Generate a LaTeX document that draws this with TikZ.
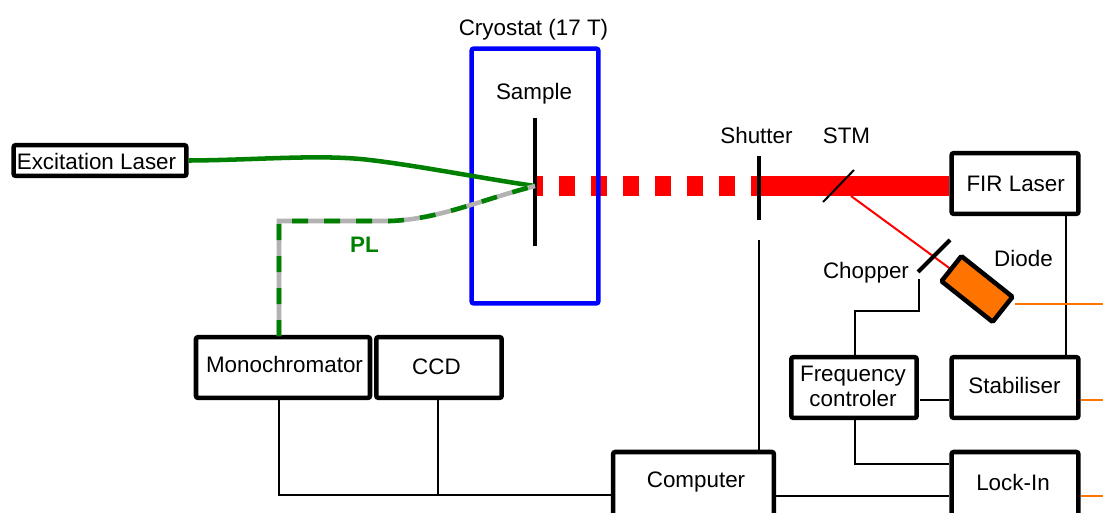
\documentclass[tikz,border=0pt]{standalone}
\usepackage{fontspec}
\setmainfont{Liberation Sans}
\begin{document}
\begin{tikzpicture}[x=.75pt, y=-.75pt,
        lab/.style={font=\fontsize{16.8}{20}\selectfont, inner sep=0pt, align=center},
        box/.style={lab, draw, line width=3.4pt, rounded corners=1.5pt, minimum height=45.5pt},
        wire/.style={line width=1.5pt},
        blade/.style={line width=3pt},
        orangewire/.style={line width=1.5pt, color=orange!90!red},
        beam/.style={line width=15pt, red},
        fibre/.style={line width=3.4pt, color=black!30},
        pump/.style={line width=3.4pt, color=green!50!black}]

      \path[use as bounding box, clip] (0,0) rectangle (1103,512);

      % beam
      \coordinate (sample) at (535,186);
      \coordinate (shutter) at (759,186);
      \node[box, minimum width=95pt] (fir) at (1015,183.5) {\hspace{1pt}FIR Laser};
      \draw[beam, dash pattern=on 12pt off 12pt, dash phase=6pt] (sample) -- (shutter);
      \draw[beam] (shutter) -- (shutter -| fir.west);
      \coordinate (stmout) at (851,196);
      \coordinate (diodein) at (952,270);
      \draw[line width=1.5pt, red] (stmout) -- (diodein);

      % cryostat
      \node[box, draw=blue, minimum width=95pt, minimum height=191pt] (cryo) at (535,176) {};
      \node[lab] (cryolab) at (533.5,29.5) {Cryostat (17 T)};
      \node[lab] (samplelab) at (534,94) {Sample};
      \coordinate (sampletop) at (535,118);
      \coordinate (samplebot) at (535,246);
      \draw[blade] (sampletop) -- (samplebot);

      % excitation and PL
      \node[box, minimum width=129.5pt, minimum height=23pt] (exc) at (100,160.5) {};
      \node[lab] (exclab) at (96.5,161) {Excitation Laser};
      \node[box, minimum width=130.5pt] (mono) at (283,367.5) {};
      \node[lab] (monolab) at (284.5,364) {Monochromator};
      \node[box, minimum width=94pt] (ccd) at (439,367.5) {};
      \node[lab] (ccdlab) at (436.5,367) {CCD};
      \coordinate (plin) at (279,336);
      \coordinate (plcorner) at (279,221);
      \draw[pump] (exc.east) .. controls (260,160) and (320,154) .. (370,160)
        .. controls (420,166) and (480,178) .. (sample);
      \draw[fibre] (plin) -- (plcorner) -- (390,221) .. controls (440,219) and (480,200) .. (sample);
      \draw[pump, dash pattern=on 12pt off 12pt] (plin) -- (plcorner) -- (390,221)
        .. controls (440,219) and (480,200) .. (sample);
      \node[lab, font=\fontsize{16.8}{20}\selectfont\bfseries, green!50!black] (pl) at (364.5,245) {PL};

      % shutter, STM, chopper
      \node[lab] (shutterlab) at (756.5,135) {Shutter};
      \node[lab] (stmlab) at (846.5,136) {STM};
      \coordinate (shuttertop) at (759,156);
      \coordinate (shutterbot) at (759,220);
      \draw[blade] (shuttertop) -- (shutterbot);
      \coordinate (stma) at (823,202);
      \coordinate (stmb) at (854,170);
      \draw[wire] (stma) -- (stmb);
      \node[lab] (chopperlab) at (866,273) {Chopper};
      \coordinate (chopa) at (918,272);
      \coordinate (chopb) at (950,240);
      \draw[blade] (chopa) -- (chopb);

      % diode
      \node[draw, line width=3.4pt, rounded corners=1pt, fill=orange!90!red, rotate=-38.5,
        minimum width=49pt, minimum height=24pt, inner sep=0pt] (diode) at (977,289) {};
      \node[lab] (diodelab) at (1023.5,258) {Diode};

      % electronics
      \node[box, minimum width=94pt] (freq) at (854,387.5) {};
      \node[lab] (freqlab) at (853,386) {Frequency\\[-1.25pt]controler};
      \node[box, minimum width=95pt] (stab) at (1015,387.5) {};
      \node[lab] (stablab) at (1014.5,385.5) {Stabiliser};
      \node[box, minimum width=95pt, minimum height=48pt] (lock) at (1015,484) {};
      \node[lab] (locklab) at (1013,482) {Lock-In};
      \node[box, minimum width=120.5pt, minimum height=48pt] (comp) at (693.5,484) {};
      \node[lab] (complab) at (696,482) {Computer};

      % wires
      \coordinate (firout) at (1066,216);
      \draw[wire] (firout) -- (firout |- stab.north);
      \coordinate (chopwire) at (919,279);
      \coordinate (chopbend) at (919,311);
      \draw[wire] (chopwire) -- (chopbend) -- (855,311) -- (855,356);
      \coordinate (freqstab) at (920,400);
      \draw[wire] (freqstab) -- (freqstab -| stab.west);
      \coordinate (freqout) at (855,420);
      \draw[wire] (freqout) -- (855,464) -- (lock.west |- 0,464);
      \coordinate (compout) at (comp.east |- 0,496);
      \draw[wire] (compout) -- (lock.west |- 0,496);
      \coordinate (shutwire) at (759,240);
      \draw[wire] (shutwire) -- (shutwire |- comp.north);
      \coordinate (monoout) at (279,400);
      \coordinate (ccdout) at (438,400);
      \draw[wire] (monoout) -- (279,495) -- (comp.west |- 0,495);
      \draw[wire] (ccdout) -- (438,495);

      % orange outputs
      \coordinate (diodeout) at (1015,304);
      \coordinate (stabout) at (1081,400);
      \coordinate (lockout) at (1081,496);
      \draw[orangewire] (diodeout) -- (1103,304);
      \draw[orangewire] (stabout) -- (1103,400);
      \draw[orangewire] (lockout) -- (1103,496);
\end{tikzpicture}
\end{document}
